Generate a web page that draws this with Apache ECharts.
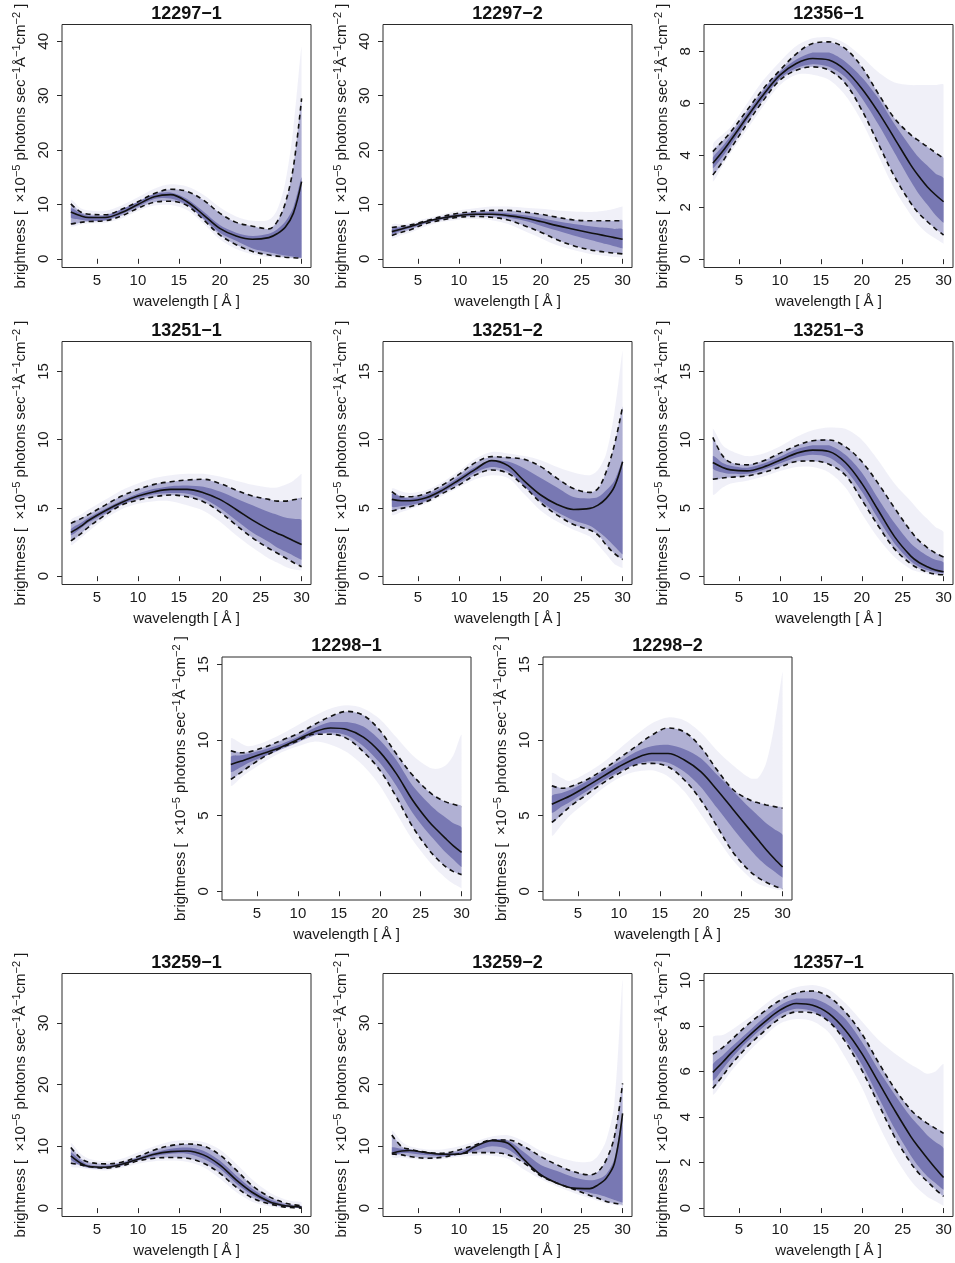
<!DOCTYPE html>
<html><head><meta charset="utf-8">
<script src="https://cdn.jsdelivr.net/npm/echarts@6/dist/echarts.min.js"></script>
<style>html,body{margin:0;padding:0;background:#fff}#c{width:955px;height:1263px}</style>
</head><body><div id="c"></div>
<script>
// ---- shared axes ----
const X = [1.8, 3, 4, 6, 8, 10, 12, 14, 16, 18, 20, 22, 24, 26, 27, 28, 29, 30];
const xTicks = [5, 10, 15, 20, 25, 30];
const yTicks40 = [0, 10, 20, 30, 40];
const yTicks8 = [0, 2, 4, 6, 8];
const yTicks15 = [0, 5, 10, 15];
const yTicks30 = [0, 10, 20, 30];
const yTicks10 = [0, 2, 4, 6, 8, 10];

// ---- 12297-1 ----
const med_12297_1 = [8.6, 7.9, 7.6, 7.6, 8.5, 10.0, 11.4, 11.8, 10.5, 8.1, 5.6, 4.2, 3.6, 3.9, 4.6, 5.8, 8.4, 14.2];
const dHi_12297_1 = [10.1, 8.6, 8.2, 8.1, 9.1, 10.5, 12.0, 12.8, 12.4, 10.8, 8.4, 6.7, 6.0, 5.5, 6.8, 10.2, 16.9, 29.5];
const dLo_12297_1 = [6.4, 6.7, 6.85, 7.0, 7.9, 9.3, 10.4, 10.6, 9.8, 7.2, 4.4, 2.6, 1.35, 0.7, 0.5, 0.3, 0.2, 0.1];
const oHi_12297_1 = [10.8, 9.3, 8.9, 8.8, 9.8, 11.3, 12.9, 13.7, 13.3, 11.8, 9.5, 7.8, 7.0, 7.2, 9.0, 14.0, 24.0, 39.0];
const oLo_12297_1 = [6.0, 6.3, 6.5, 6.6, 7.4, 8.8, 9.8, 9.9, 9.0, 6.5, 3.6, 1.8, 0.8, 0.3, 0.2, 0.1, 0.05, 0.0];
const cHi_12297_1 = [9.3, 8.4, 7.9, 7.9, 9.1, 10.5, 11.9, 12.2, 11.0, 8.7, 6.2, 4.8, 4.2, 4.6, 5.4, 6.8, 9.5, 15.0];
const cLo_12297_1 = [7.6, 7.2, 7.0, 7.1, 8.2, 9.6, 11.0, 11.1, 9.9, 7.4, 4.8, 3.3, 1.9, 1.2, 0.9, 0.6, 0.4, 0.2];

// ---- 12297-2 ----
const med_12297_2 = [5.0, 5.5, 5.9, 6.85, 7.5, 7.95, 8.2, 8.2, 7.95, 7.5, 6.85, 6.1, 5.45, 4.8, 4.5, 4.2, 3.9, 3.6];
const dHi_12297_2 = [5.75, 6.0, 6.2, 7.0, 7.8, 8.4, 8.7, 8.9, 8.9, 8.6, 8.2, 7.65, 7.15, 7.0, 7.0, 7.0, 7.0, 7.0];
const dLo_12297_2 = [4.3, 4.9, 5.3, 6.5, 7.15, 7.65, 7.8, 7.65, 7.15, 6.1, 4.9, 3.5, 2.4, 1.65, 1.4, 1.2, 1.05, 0.9];
const oHi_12297_2 = [6.3, 6.4, 6.6, 7.4, 8.2, 8.9, 9.3, 9.6, 9.6, 9.4, 9.2, 8.9, 8.7, 8.6, 8.7, 8.9, 9.2, 9.6];
const oLo_12297_2 = [3.8, 4.4, 4.8, 6.0, 6.8, 7.2, 7.3, 7.1, 6.4, 5.1, 3.8, 2.5, 1.6, 0.9, 0.7, 0.5, 0.35, 0.2];
const cHi_12297_2 = [5.5, 5.8, 6.1, 7.0, 7.7, 8.2, 8.5, 8.6, 8.4, 8.0, 7.5, 6.9, 6.4, 6.0, 5.8, 5.7, 5.5, 5.4];
const cLo_12297_2 = [4.6, 5.2, 5.6, 6.6, 7.3, 7.75, 8.0, 8.0, 7.6, 7.0, 6.1, 5.2, 4.3, 3.5, 3.1, 2.7, 2.3, 1.9];

// ---- 12356-1 ----
const med_12356_1 = [3.69, 4.15, 4.58, 5.48, 6.34, 7.08, 7.53, 7.72, 7.66, 7.27, 6.57, 5.67, 4.65, 3.62, 3.18, 2.79, 2.48, 2.21];
const dHi_12356_1 = [4.14, 4.55, 4.9, 5.74, 6.57, 7.27, 7.9, 8.3, 8.36, 8.1, 7.4, 6.38, 5.42, 4.78, 4.55, 4.33, 4.1, 3.88];
const dLo_12356_1 = [3.24, 3.75, 4.26, 5.22, 6.12, 6.89, 7.27, 7.4, 7.27, 6.76, 5.74, 4.46, 3.18, 2.15, 1.75, 1.45, 1.17, 0.93];
const oHi_12356_1 = [4.4, 4.8, 5.1, 6.0, 6.9, 7.6, 8.2, 8.5, 8.55, 8.3, 7.8, 7.2, 6.8, 6.7, 6.7, 6.7, 6.7, 6.7];
const oLo_12356_1 = [3.0, 3.6, 4.1, 5.0, 5.9, 6.7, 7.1, 7.1, 6.9, 6.3, 5.3, 4.0, 2.7, 1.7, 1.3, 1.0, 0.8, 0.6];
const cHi_12356_1 = [3.9, 4.35, 4.75, 5.62, 6.48, 7.2, 7.68, 7.95, 7.95, 7.6, 7.0, 6.2, 5.2, 4.3, 3.9, 3.6, 3.3, 3.1];
const cLo_12356_1 = [3.5, 3.95, 4.4, 5.35, 6.2, 6.95, 7.35, 7.5, 7.4, 7.0, 6.2, 5.2, 4.1, 3.0, 2.5, 2.1, 1.7, 1.4];

// ---- 13251-1 ----
const med_13251_1 = [3.2, 3.65, 4.1, 4.8, 5.4, 5.87, 6.19, 6.36, 6.36, 6.12, 5.63, 4.89, 4.11, 3.43, 3.15, 2.89, 2.6, 2.32];
const dHi_13251_1 = [3.87, 4.2, 4.53, 5.21, 5.87, 6.36, 6.73, 6.92, 7.05, 7.1, 6.8, 6.31, 5.87, 5.63, 5.5, 5.5, 5.6, 5.7];
const dLo_13251_1 = [2.59, 3.1, 3.62, 4.48, 5.21, 5.58, 5.82, 5.95, 5.82, 5.46, 4.72, 3.74, 2.81, 2.03, 1.7, 1.35, 1.0, 0.69];
const oHi_13251_1 = [4.1, 4.5, 4.9, 5.6, 6.3, 6.8, 7.2, 7.4, 7.5, 7.5, 7.3, 7.0, 6.7, 6.5, 6.5, 6.7, 7.0, 7.5];
const oLo_13251_1 = [2.3, 2.8, 3.3, 4.2, 4.9, 5.3, 5.5, 5.5, 5.2, 4.8, 4.0, 3.0, 2.1, 1.3, 1.0, 0.7, 0.5, 0.4];
const cHi_13251_1 = [3.45, 3.9, 4.3, 4.95, 5.55, 6.05, 6.4, 6.6, 6.65, 6.55, 6.2, 5.7, 5.2, 4.7, 4.5, 4.3, 4.2, 4.1];
const cLo_13251_1 = [3.0, 3.5, 3.95, 4.6, 5.25, 5.7, 6.0, 6.1, 6.05, 5.7, 5.0, 4.1, 3.2, 2.5, 2.1, 1.8, 1.5, 1.2];

// ---- 13251-2 ----
const med_13251_2 = [5.63, 5.53, 5.53, 5.75, 6.31, 7.05, 7.83, 8.47, 8.1, 6.97, 5.95, 5.26, 4.89, 4.97, 5.21, 5.7, 6.56, 8.39];
const dHi_13251_2 = [6.19, 5.82, 5.82, 6.07, 6.68, 7.46, 8.32, 8.76, 8.69, 8.56, 8.03, 7.17, 6.43, 6.14, 6.43, 7.66, 9.62, 12.43];
const dLo_13251_2 = [4.77, 4.97, 5.09, 5.46, 6.07, 6.68, 7.41, 7.78, 7.54, 6.56, 5.38, 4.48, 3.79, 3.38, 3.01, 2.28, 1.66, 1.22];
const oHi_13251_2 = [6.4, 6.2, 6.1, 6.3, 6.9, 7.7, 8.6, 9.1, 9.0, 8.8, 8.5, 8.0, 7.6, 7.4, 7.8, 9.0, 12.0, 16.5];
const oLo_13251_2 = [4.5, 4.7, 4.9, 5.3, 5.9, 6.5, 7.1, 7.4, 7.2, 6.0, 4.8, 4.0, 3.4, 2.9, 2.3, 1.6, 0.9, 0.6];
const cHi_13251_2 = [6.0, 5.8, 5.7, 5.95, 6.5, 7.25, 8.0, 8.5, 8.4, 7.9, 7.2, 6.5, 5.8, 5.7, 5.8, 6.3, 7.0, 8.5];
const cLo_13251_2 = [5.1, 5.15, 5.2, 5.55, 6.15, 6.85, 7.6, 8.0, 7.7, 6.6, 5.5, 4.7, 4.1, 3.7, 3.3, 2.8, 2.2, 1.6];

// ---- 13251-3 ----
const med_13251_3 = [8.33, 7.97, 7.79, 7.72, 8.01, 8.5, 9.0, 9.24, 9.14, 8.33, 6.8, 4.85, 2.9, 1.47, 1.0, 0.69, 0.45, 0.32];
const dHi_13251_3 = [10.17, 8.82, 8.33, 8.16, 8.46, 9.02, 9.56, 9.93, 9.98, 9.49, 8.4, 6.8, 5.0, 3.3, 2.6, 2.1, 1.7, 1.4];
const dLo_13251_3 = [7.1, 7.2, 7.25, 7.35, 7.6, 8.0, 8.4, 8.45, 8.2, 7.4, 5.6, 3.7, 2.0, 0.9, 0.55, 0.3, 0.15, 0.1];
const oHi_13251_3 = [10.8, 9.6, 9.2, 8.8, 9.0, 9.5, 10.2, 10.7, 10.9, 10.8, 10.0, 8.5, 6.8, 5.5, 4.8, 4.2, 3.6, 3.2];
const oLo_13251_3 = [6.0, 6.5, 6.8, 7.0, 7.3, 7.7, 8.0, 8.0, 7.6, 6.5, 4.6, 2.8, 1.4, 0.5, 0.3, 0.15, 0.05, 0.02];
const cHi_13251_3 = [8.8, 8.3, 8.1, 7.95, 8.25, 8.75, 9.3, 9.6, 9.6, 8.9, 7.6, 5.7, 3.9, 2.4, 1.9, 1.5, 1.2, 1.0];
const cLo_13251_3 = [7.9, 7.6, 7.5, 7.5, 7.8, 8.25, 8.7, 8.9, 8.7, 7.8, 6.2, 4.2, 2.4, 1.1, 0.7, 0.45, 0.3, 0.2];

// ---- 12298-1 ----
const med_12298_1 = [8.39, 8.6, 8.79, 9.16, 9.55, 10.05, 10.54, 10.8, 10.7, 10.2, 9.22, 7.8, 6.04, 4.61, 4.05, 3.51, 3.0, 2.57];
const dHi_12298_1 = [9.29, 9.16, 9.22, 9.55, 9.99, 10.43, 11.03, 11.57, 11.9, 11.64, 10.65, 9.11, 7.69, 6.59, 6.2, 5.93, 5.75, 5.6];
const dLo_12298_1 = [7.4, 7.85, 8.24, 8.94, 9.51, 9.95, 10.39, 10.39, 10.1, 9.22, 8.02, 6.26, 4.28, 2.75, 2.15, 1.65, 1.3, 1.1];
const oHi_12298_1 = [10.1, 9.8, 9.6, 9.9, 10.4, 11.0, 11.6, 12.1, 12.3, 12.1, 11.4, 10.2, 9.0, 8.2, 8.1, 8.3, 9.0, 10.3];
const oLo_12298_1 = [7.0, 7.5, 7.9, 8.6, 9.2, 9.6, 9.9, 9.7, 9.2, 8.3, 7.0, 5.2, 3.4, 2.0, 1.4, 0.9, 0.5, 0.2];
const cHi_12298_1 = [8.9, 9.0, 9.1, 9.4, 9.75, 10.2, 10.8, 11.2, 11.2, 10.9, 10.0, 8.7, 7.0, 5.8, 5.3, 4.9, 4.5, 4.2];
const cLo_12298_1 = [7.9, 8.2, 8.5, 8.95, 9.4, 9.85, 10.3, 10.5, 10.3, 9.6, 8.5, 7.0, 5.2, 3.8, 3.2, 2.6, 2.1, 1.6];

// ---- 12298-2 ----
const med_12298_2 = [5.75, 6.05, 6.3, 6.92, 7.58, 8.24, 8.79, 9.11, 9.11, 8.68, 7.91, 6.7, 5.38, 4.06, 3.4, 2.75, 2.15, 1.6];
const dHi_12298_2 = [6.98, 6.81, 6.92, 7.36, 8.02, 8.79, 9.55, 10.32, 10.8, 10.54, 9.55, 8.02, 6.7, 6.04, 5.85, 5.71, 5.6, 5.49];
const dLo_12298_2 = [4.55, 5.1, 5.6, 6.37, 7.14, 7.8, 8.35, 8.46, 8.24, 7.36, 6.04, 4.28, 2.53, 1.32, 0.9, 0.59, 0.35, 0.15];
const oHi_12298_2 = [7.8, 7.5, 7.3, 7.8, 8.5, 9.4, 10.3, 11.1, 11.5, 11.3, 10.5, 9.3, 8.3, 7.5, 7.5, 8.5, 11.0, 14.5];
const oLo_12298_2 = [3.7, 4.4, 5.0, 5.9, 6.8, 7.5, 7.9, 8.0, 7.6, 6.6, 5.1, 3.5, 2.0, 0.9, 0.5, 0.3, 0.15, 0.05];
const cHi_12298_2 = [6.3, 6.5, 6.7, 7.25, 7.9, 8.55, 9.2, 9.6, 9.7, 9.4, 8.8, 7.7, 6.6, 5.5, 5.0, 4.5, 4.1, 3.7];
const cLo_12298_2 = [5.2, 5.6, 5.9, 6.6, 7.3, 7.9, 8.4, 8.6, 8.5, 7.9, 6.9, 5.5, 4.1, 2.8, 2.2, 1.7, 1.3, 0.9];

// ---- 13259-1 ----
const med_13259_1 = [8.45, 7.27, 6.73, 6.62, 7.11, 7.92, 8.72, 9.15, 9.26, 8.62, 7.0, 4.58, 2.53, 1.08, 0.65, 0.38, 0.25, 0.16];
const dHi_13259_1 = [9.8, 8.08, 7.43, 7.16, 7.43, 8.35, 9.42, 10.12, 10.39, 10.07, 8.62, 6.19, 3.61, 1.88, 1.3, 0.81, 0.55, 0.38];
const dLo_13259_1 = [7.27, 7.0, 6.73, 6.46, 6.84, 7.65, 8.08, 8.19, 8.08, 7.27, 5.65, 3.39, 1.62, 0.7, 0.4, 0.16, 0.05, 0.0];
const oHi_13259_1 = [10.5, 8.8, 8.0, 7.6, 8.0, 9.0, 10.0, 10.8, 11.0, 10.7, 9.5, 7.2, 4.6, 2.6, 1.9, 1.4, 1.1, 0.9];
const oLo_13259_1 = [6.8, 6.5, 6.3, 6.1, 6.5, 7.2, 7.6, 7.7, 7.5, 6.6, 4.8, 2.6, 1.0, 0.3, 0.1, 0.0, 0.0, 0.0];
const cHi_13259_1 = [9.0, 7.7, 7.0, 6.85, 7.3, 8.15, 9.0, 9.6, 9.8, 9.3, 7.7, 5.3, 3.1, 1.5, 1.0, 0.6, 0.4, 0.3];
const cLo_13259_1 = [7.9, 6.9, 6.5, 6.4, 6.9, 7.7, 8.4, 8.8, 8.8, 8.0, 6.4, 4.0, 2.1, 0.8, 0.45, 0.2, 0.1, 0.05];

// ---- 13259-2 ----
const med_13259_2 = [8.89, 9.26, 9.32, 8.99, 8.72, 8.72, 9.96, 10.93, 10.5, 7.8, 5.4, 4.04, 3.23, 3.15, 3.77, 4.85, 7.27, 15.35];
const dHi_13259_2 = [11.85, 9.96, 9.53, 9.05, 8.89, 9.42, 10.23, 11.04, 11.04, 9.96, 8.35, 7.0, 5.92, 5.38, 5.92, 7.81, 11.58, 20.19];
const dLo_13259_2 = [8.78, 8.62, 8.35, 8.08, 8.24, 8.78, 8.99, 8.99, 8.62, 7.27, 5.22, 4.04, 3.07, 2.05, 1.6, 1.08, 0.8, 0.54];
const oHi_13259_2 = [12.5, 10.8, 10.0, 9.5, 9.5, 10.0, 10.8, 11.6, 11.8, 10.8, 9.3, 8.3, 7.6, 7.5, 8.5, 11.0, 17.0, 37.0];
const oLo_13259_2 = [8.3, 8.2, 8.0, 7.8, 7.9, 8.3, 8.5, 8.5, 8.0, 6.2, 4.7, 3.5, 2.5, 1.6, 1.2, 0.8, 0.5, 0.3];
const cHi_13259_2 = [9.8, 9.6, 9.5, 9.1, 8.9, 9.1, 10.2, 11.1, 10.9, 9.0, 7.0, 6.0, 5.0, 4.5, 4.7, 5.5, 8.0, 15.0];
const cLo_13259_2 = [8.7, 8.9, 8.9, 8.6, 8.4, 8.6, 9.3, 10.0, 9.5, 7.5, 5.3, 4.1, 3.1, 2.5, 2.2, 1.8, 1.3, 0.9];

// ---- 12357-1 ----
const med_12357_1 = [5.96, 6.4, 6.79, 7.49, 8.13, 8.69, 8.98, 8.91, 8.54, 7.81, 6.79, 5.55, 4.31, 3.14, 2.65, 2.19, 1.75, 1.34];
const dHi_12357_1 = [6.76, 7.05, 7.37, 8.03, 8.61, 9.12, 9.45, 9.53, 9.27, 8.61, 7.66, 6.42, 5.26, 4.31, 3.98, 3.72, 3.5, 3.28];
const dLo_12357_1 = [5.26, 5.8, 6.28, 7.08, 7.74, 8.32, 8.61, 8.57, 8.18, 7.3, 6.06, 4.6, 3.14, 1.97, 1.52, 1.17, 0.82, 0.51];
const oHi_12357_1 = [7.5, 7.6, 7.8, 8.3, 8.9, 9.4, 9.7, 9.8, 9.6, 9.0, 8.2, 7.4, 6.8, 6.3, 6.1, 5.9, 6.0, 6.3];
const oLo_12357_1 = [5.0, 5.5, 6.0, 6.8, 7.5, 8.1, 8.3, 8.2, 7.7, 6.6, 5.3, 3.7, 2.3, 1.2, 0.8, 0.5, 0.3, 0.1];
const cHi_12357_1 = [6.3, 6.7, 7.05, 7.7, 8.35, 8.9, 9.2, 9.2, 8.9, 8.3, 7.3, 6.1, 5.0, 4.0, 3.6, 3.2, 2.9, 2.6];
const cLo_12357_1 = [5.6, 6.1, 6.55, 7.3, 7.95, 8.5, 8.75, 8.65, 8.2, 7.4, 6.3, 4.9, 3.5, 2.3, 1.8, 1.4, 1.1, 0.8];

// ---- panel configuration (layout + references to data) ----
const PW = 249, PH = 243;
const panels = [
  {title:'12297\u22121', med:med_12297_1, dHi:dHi_12297_1, dLo:dLo_12297_1, oHi:oHi_12297_1, oLo:oLo_12297_1, cHi:cHi_12297_1, cLo:cLo_12297_1, yTicks:yTicks40, yMin:-1.6, yMax:43.1, left:62, top:24.5},
  {title:'12297\u22122', med:med_12297_2, dHi:dHi_12297_2, dLo:dLo_12297_2, oHi:oHi_12297_2, oLo:oLo_12297_2, cHi:cHi_12297_2, cLo:cLo_12297_2, yTicks:yTicks40, yMin:-1.6, yMax:43.1, left:383, top:24.5},
  {title:'12356\u22121', med:med_12356_1, dHi:dHi_12356_1, dLo:dLo_12356_1, oHi:oHi_12356_1, oLo:oLo_12356_1, cHi:cHi_12356_1, cLo:cLo_12356_1, yTicks:yTicks8, yMin:-0.32, yMax:9.03, left:704, top:24.5},
  {title:'13251\u22121', med:med_13251_1, dHi:dHi_13251_1, dLo:dLo_13251_1, oHi:oHi_13251_1, oLo:oLo_13251_1, cHi:cHi_13251_1, cLo:cLo_13251_1, yTicks:yTicks15, yMin:-0.61, yMax:17.2, left:62, top:341.5},
  {title:'13251\u22122', med:med_13251_2, dHi:dHi_13251_2, dLo:dLo_13251_2, oHi:oHi_13251_2, oLo:oLo_13251_2, cHi:cHi_13251_2, cLo:cLo_13251_2, yTicks:yTicks15, yMin:-0.61, yMax:17.2, left:383, top:341.5},
  {title:'13251\u22123', med:med_13251_3, dHi:dHi_13251_3, dLo:dLo_13251_3, oHi:oHi_13251_3, oLo:oLo_13251_3, cHi:cHi_13251_3, cLo:cLo_13251_3, yTicks:yTicks15, yMin:-0.61, yMax:17.2, left:704, top:341.5},
  {title:'12298\u22121', med:med_12298_1, dHi:dHi_12298_1, dLo:dLo_12298_1, oHi:oHi_12298_1, oLo:oLo_12298_1, cHi:cHi_12298_1, cLo:cLo_12298_1, yTicks:yTicks15, yMin:-0.58, yMax:15.5, left:222, top:657},
  {title:'12298\u22122', med:med_12298_2, dHi:dHi_12298_2, dLo:dLo_12298_2, oHi:oHi_12298_2, oLo:oLo_12298_2, cHi:cHi_12298_2, cLo:cLo_12298_2, yTicks:yTicks15, yMin:-0.58, yMax:15.5, left:543, top:657},
  {title:'13259\u22121', med:med_13259_1, dHi:dHi_13259_1, dLo:dLo_13259_1, oHi:oHi_13259_1, oLo:oLo_13259_1, cHi:cHi_13259_1, cLo:cLo_13259_1, yTicks:yTicks30, yMin:-1.36, yMax:38, left:62, top:973.5},
  {title:'13259\u22122', med:med_13259_2, dHi:dHi_13259_2, dLo:dLo_13259_2, oHi:oHi_13259_2, oLo:oLo_13259_2, cHi:cHi_13259_2, cLo:cLo_13259_2, yTicks:yTicks30, yMin:-1.36, yMax:38, left:383, top:973.5},
  {title:'12357\u22121', med:med_12357_1, dHi:dHi_12357_1, dLo:dLo_12357_1, oHi:oHi_12357_1, oLo:oLo_12357_1, cHi:cHi_12357_1, cLo:cLo_12357_1, yTicks:yTicks10, yMin:-0.37, yMax:10.3, left:704, top:973.5}
];

const FONT = '"Liberation Sans", Arial, Helvetica, sans-serif';
const INK = '#1a1a1a';
const BAND = [ 'rgba(80,80,170,0.085)', 'rgba(64,64,148,0.36)', 'rgba(64,64,148,0.5)' ];
const yName = 'brightness [  \u00d710{s|\u22125} photons sec{s|\u22121}\u00c5{s|\u22121}cm{s|\u22122} ]';

function bandSeries(i, lo, hi, color) {
  return {
    type:'custom', xAxisIndex:i, yAxisIndex:i, silent:true, z:1, clip:true,
    data:[[X[0], lo[0]]],
    renderItem:(params, api) => {
      const top = X.map((x, j) => api.coord([x, hi[j]]));
      const bot = X.map((x, j) => api.coord([x, lo[j]])).reverse();
      const pts = top.concat(bot);
      return {type:'polygon', shape:{points:pts, smooth:0.3, smoothConstraint:[pts[0], pts[0]]},
        style:{fill:color}};
    }
  };
}

const grids = [], xAxes = [], yAxes = [], series = [], graphics = [];
panels.forEach((p, i) => {
  grids.push({left:p.left, top:p.top, width:PW, height:PH, show:true, borderColor:'#2a2a2a', borderWidth:1,
    backgroundColor:'rgba(0,0,0,0)', containLabel:false, outerBoundsMode:'none'});
  xAxes.push({type:'value', gridIndex:i, min:0.72, max:31.15,
    splitLine:{show:false}, axisLine:{show:false},
    axisTick:{show:true, length:5, customValues:xTicks, lineStyle:{color:'#2a2a2a', width:1}},
    axisLabel:{customValues:xTicks, fontSize:15, color:INK, fontFamily:FONT, margin:6},
    name:'wavelength [ \u00c5 ]', nameLocation:'middle', nameGap:27,
    nameTextStyle:{fontSize:15, fontFamily:FONT, color:INK}});
  yAxes.push({type:'value', gridIndex:i, min:p.yMin, max:p.yMax,
    splitLine:{show:false}, axisLine:{show:false},
    axisTick:{show:true, length:5, customValues:p.yTicks, lineStyle:{color:'#2a2a2a', width:1}},
    axisLabel:{customValues:p.yTicks, rotate:90, fontSize:15, color:INK, fontFamily:FONT, margin:11},
    name:yName, nameLocation:'middle', nameGap:31, nameRotate:90,
    nameTextStyle:{fontSize:15, fontFamily:FONT, color:INK, lineHeight:20,
      rich:{s:{fontSize:11, fontFamily:FONT, color:INK, verticalAlign:'top', lineHeight:20}}}});
  graphics.push({type:'text', x:p.left + PW/2, y:p.top - 10.5,
    style:{text:p.title, font:'bold 18px ' + FONT, fill:'#111', textAlign:'center', textVerticalAlign:'middle'}});

  series.push(bandSeries(i, p.oLo, p.oHi, BAND[0]));
  series.push(bandSeries(i, p.dLo, p.dHi, BAND[1]));
  series.push(bandSeries(i, p.cLo, p.cHi, BAND[2]));
  [[p.dHi, 'dashed'], [p.dLo, 'dashed'], [p.med, 'solid']].forEach(([arr, kind]) => {
    series.push({type:'line', xAxisIndex:i, yAxisIndex:i, silent:true, z:3,
      data:X.map((x, j) => [x, arr[j]]), smooth:0.35, symbol:'none',
      lineStyle:{color:'#111', width:1.6, type: kind === 'dashed' ? [5, 4] : 'solid'}});
  });
});

const chart = echarts.init(document.getElementById('c'), null, {renderer:'canvas'});
chart.setOption({
  animation:false, backgroundColor:'#ffffff',
  grid:grids, xAxis:xAxes, yAxis:yAxes, series:series, graphic:graphics
});
</script></body></html>
